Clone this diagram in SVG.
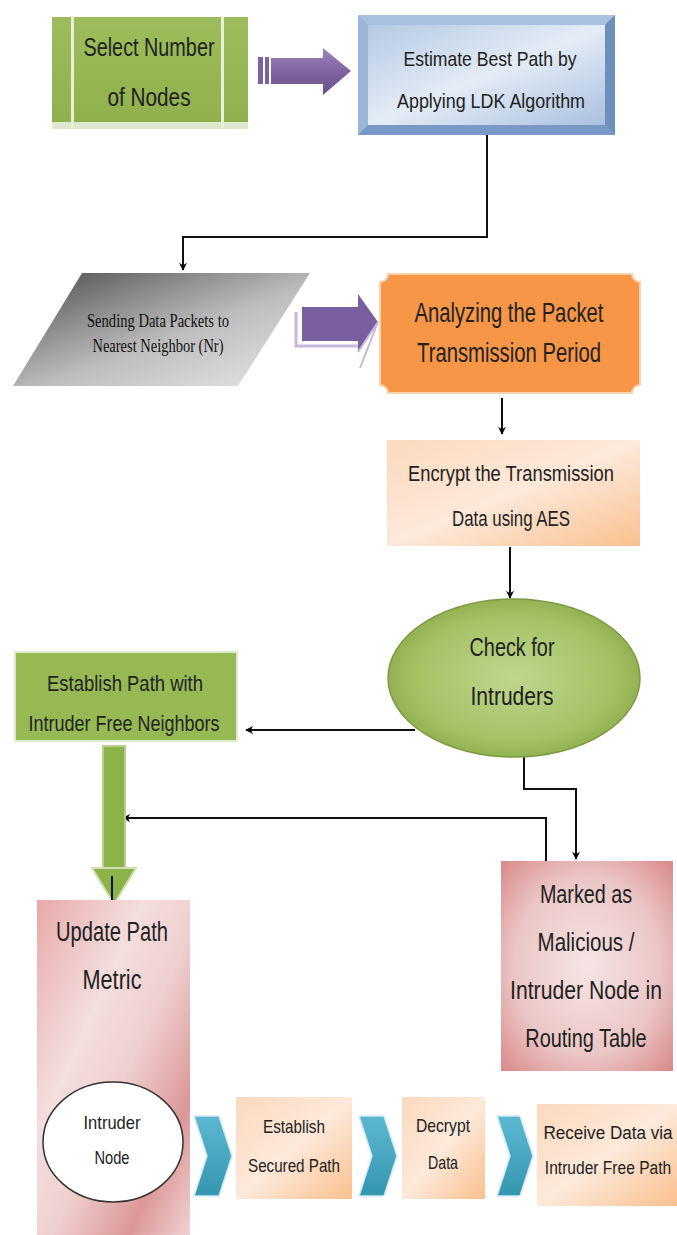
<svg xmlns="http://www.w3.org/2000/svg" width="677" height="1235" viewBox="0 0 677 1235">
<defs>
<linearGradient id="gGreen" x1="0" y1="0" x2="0" y2="1"><stop offset="0" stop-color="#9dbd5c"/><stop offset="1" stop-color="#8fb04c"/></linearGradient>
<linearGradient id="gBlue" x1="0" y1="0" x2="1" y2="1"><stop offset="0" stop-color="#b4c9e3"/><stop offset="0.5" stop-color="#e4ecf6"/><stop offset="1" stop-color="#a9c0de"/></linearGradient>
<linearGradient id="gGray" x1="0" y1="0" x2="1" y2="1"><stop offset="0" stop-color="#4a4a4a"/><stop offset="0.55" stop-color="#bdbdbd"/><stop offset="1" stop-color="#e8e8e8"/></linearGradient>
<linearGradient id="gPeach" x1="0" y1="0" x2="1" y2="1"><stop offset="0" stop-color="#fbd9bd"/><stop offset="0.5" stop-color="#fde9da"/><stop offset="1" stop-color="#f9c08e"/></linearGradient>
<radialGradient id="gOval" cx="0.5" cy="0.5" r="0.55"><stop offset="0" stop-color="#bfd68e"/><stop offset="0.7" stop-color="#a5c265"/><stop offset="1" stop-color="#8cab4a"/></radialGradient>
<radialGradient id="gPink" cx="0.5" cy="0.5" r="0.7"><stop offset="0" stop-color="#f6e4e4"/><stop offset="0.6" stop-color="#ebc6c6"/><stop offset="1" stop-color="#d9898a"/></radialGradient>
<linearGradient id="gPinkTall" x1="0" y1="0" x2="1" y2="1"><stop offset="0" stop-color="#e8a9aa"/><stop offset="0.35" stop-color="#f4dede"/><stop offset="0.55" stop-color="#efcfcf"/><stop offset="0.8" stop-color="#dc9798"/><stop offset="1" stop-color="#f0d2d2"/></linearGradient>
<linearGradient id="gPurple" x1="0" y1="0" x2="0" y2="1"><stop offset="0" stop-color="#9d86bc"/><stop offset="0.5" stop-color="#8064a2"/><stop offset="1" stop-color="#6a5089"/></linearGradient>
<linearGradient id="gChev" x1="0" y1="0" x2="0" y2="1"><stop offset="0" stop-color="#5bb8d0"/><stop offset="1" stop-color="#3596b0"/></linearGradient>
<marker id="ah" viewBox="0 0 10 10" refX="9" refY="5" markerWidth="8" markerHeight="8" markerUnits="userSpaceOnUse" orient="auto"><path d="M0,0 L10,5 L0,10 L3,5 Z" fill="#000"/></marker>
</defs>
<style>
.t{font-family:"Liberation Sans",Arial,sans-serif;fill:#222;text-anchor:middle}
.s{font-family:"Liberation Serif","Times New Roman",serif;fill:#111;text-anchor:middle}
.ln{fill:none;stroke:#111;stroke-width:2}
</style>
<rect width="677" height="1235" fill="#fff"/>

<g id="connectors">
<path class="ln" d="M487,135 V237 H183 V270" marker-end="url(#ah)"/>
<path class="ln" d="M502,398 V434" marker-end="url(#ah)"/>
<path class="ln" d="M510,547 V598" marker-end="url(#ah)"/>
<path class="ln" d="M415,730 H246" marker-end="url(#ah)"/>
<path class="ln" d="M524,757 V789 H576 V859" marker-end="url(#ah)"/>
<path class="ln" d="M546,861 V818 H123" marker-end="url(#ah)"/>
<g id="arrow1">
<rect x="258" y="57" width="5" height="27" fill="#7d62a0"/>
<rect x="265" y="57" width="4" height="27" fill="#7d62a0"/>
<path d="M271,58 H323 V48 L351,71 L323,95 V84 H271 Z" fill="url(#gPurple)"/>
</g>
<g id="arrow2">
<path d="M296,312 V346 H358" fill="none" stroke="#c6b8d8" stroke-width="3"/>
<path d="M302,307 H358 V294 L378,322 L358,352 V341 H302 Z" fill="#7a5fa0"/>
<path d="M358,352 L378,322 L360,368" fill="none" stroke="#c6b8d8" stroke-width="2"/>
</g>
<g id="greenArrow">
<rect x="103" y="746" width="22" height="124" fill="#8db24a" stroke="#b6d08a" stroke-width="2"/>
<path d="M92,868 H136 L114,904 Z" fill="#8db24a" stroke="#cfe0b0" stroke-width="2"/>
<path d="M112,876 V902" stroke="#111" stroke-width="2"/>
</g>
</g>

<g id="n-select">
<rect x="52" y="17" width="196" height="111" fill="url(#gGreen)"/>
<rect x="52" y="122" width="196" height="7" fill="#dfe8cc"/>
<rect x="71" y="17" width="3" height="111" fill="#e9f0da"/>
<rect x="221" y="17" width="3" height="111" fill="#e9f0da"/>
<text class="t" x="149" y="56" font-size="25" textLength="131" lengthAdjust="spacingAndGlyphs">Select Number</text>
<text class="t" x="149" y="106" font-size="25" textLength="83" lengthAdjust="spacingAndGlyphs">of Nodes</text>
</g>

<g id="n-estimate">
<rect x="358" y="15" width="257" height="120" fill="#8eabd2"/>
<path d="M358,15 H615 L605,25 H368 Z" fill="#a9c1e0"/>
<path d="M358,15 L368,25 V125 L358,135 Z" fill="#9cb6da"/>
<path d="M615,15 V135 L605,125 V25 Z" fill="#6d8fbd"/>
<path d="M358,135 H615 L605,125 H368 Z" fill="#7899c5"/>
<rect x="368" y="25" width="237" height="100" fill="url(#gBlue)"/>
<text class="t" x="490" y="66" font-size="21" textLength="173" lengthAdjust="spacingAndGlyphs">Estimate Best Path by</text>
<text class="t" x="491" y="108" font-size="21" textLength="188" lengthAdjust="spacingAndGlyphs">Applying LDK Algorithm</text>
</g>

<g id="n-sending">
<path d="M82,273 H310 L238,386 H13 Z" fill="url(#gGray)"/>
<text class="s" x="158" y="327" font-size="18" textLength="142" lengthAdjust="spacingAndGlyphs">Sending Data Packets to</text>
<text class="s" x="158" y="352" font-size="18" textLength="131" lengthAdjust="spacingAndGlyphs">Nearest Neighbor (Nr)</text>
</g>

<g id="n-analyze">
<path d="M388,274 H632 A8,8 0 0 0 640,282 V385 A8,8 0 0 0 632,393 H388 A8,8 0 0 0 380,385 V282 A8,8 0 0 0 388,274 Z" fill="#f79646" stroke="#fbd1ae" stroke-width="2"/>
<text class="t" x="509" y="322" font-size="27" textLength="189" lengthAdjust="spacingAndGlyphs">Analyzing the Packet</text>
<text class="t" x="509" y="362" font-size="27" textLength="184" lengthAdjust="spacingAndGlyphs">Transmission Period</text>
</g>

<g id="n-encrypt">
<rect x="387" y="440" width="253" height="106" fill="url(#gPeach)"/>
<text class="t" x="511" y="481" font-size="22" textLength="206" lengthAdjust="spacingAndGlyphs">Encrypt the Transmission</text>
<text class="t" x="511" y="526" font-size="22" textLength="118" lengthAdjust="spacingAndGlyphs">Data using AES</text>
</g>

<g id="n-check">
<ellipse cx="514" cy="678" rx="126" ry="79" fill="url(#gOval)" stroke="#7d9a40" stroke-width="1.5"/>
<text class="t" x="512" y="656" font-size="25" textLength="85" lengthAdjust="spacingAndGlyphs">Check for</text>
<text class="t" x="512" y="705" font-size="25" textLength="83" lengthAdjust="spacingAndGlyphs">Intruders</text>
</g>

<g id="n-establishPath">
<rect x="15" y="652" width="222" height="89" fill="#96b954" stroke="#dfe9cd" stroke-width="2"/>
<text class="t" x="125" y="691" font-size="22" textLength="156" lengthAdjust="spacingAndGlyphs">Establish Path with</text>
<text class="t" x="124" y="731" font-size="22" textLength="191" lengthAdjust="spacingAndGlyphs">Intruder Free Neighbors</text>
</g>

<g id="n-marked">
<rect x="501" y="861" width="172" height="210" fill="url(#gPink)"/>
<text class="t" font-size="26" transform="translate(586,903) scale(0.76,1)">Marked as</text>
<text class="t" font-size="26" transform="translate(586,951) scale(0.79,1)">Malicious /</text>
<text class="t" font-size="26" transform="translate(586,999) scale(0.815,1)">Intruder Node in</text>
<text class="t" font-size="26" transform="translate(586,1047) scale(0.766,1)">Routing Table</text>
</g>

<g id="n-update">
<rect x="37" y="900" width="153" height="335" fill="url(#gPinkTall)"/>
<text class="t" x="112" y="941" font-size="27" textLength="112" lengthAdjust="spacingAndGlyphs">Update Path</text>
<text class="t" x="112" y="989" font-size="27" textLength="59" lengthAdjust="spacingAndGlyphs">Metric</text>
</g>

<g id="n-intruderNode">
<ellipse cx="113" cy="1142" rx="70" ry="60" fill="#fff" stroke="#333" stroke-width="1.5"/>
<text class="t" x="112" y="1129" font-size="19" textLength="57" lengthAdjust="spacingAndGlyphs">Intruder</text>
<text class="t" x="112" y="1164" font-size="19" textLength="35" lengthAdjust="spacingAndGlyphs">Node</text>
</g>

<g id="chevrons">
<path d="M194,1116 H219 L232,1156 L219,1196 H194 L207,1156 Z" fill="url(#gChev)" stroke="#cfe9f1" stroke-width="1.5"/>
<path d="M359,1116 H384 L397,1156 L384,1196 H359 L372,1156 Z" fill="url(#gChev)" stroke="#cfe9f1" stroke-width="1.5"/>
<path d="M497,1116 H520 L533,1156 L520,1196 H497 L510,1156 Z" fill="url(#gChev)" stroke="#cfe9f1" stroke-width="1.5"/>
</g>

<g id="n-secured">
<rect x="236" y="1097" width="116" height="102" fill="url(#gPeach)"/>
<text class="t" x="294" y="1133" font-size="19" textLength="62" lengthAdjust="spacingAndGlyphs">Establish</text>
<text class="t" x="294" y="1172" font-size="19" textLength="92" lengthAdjust="spacingAndGlyphs">Secured Path</text>
</g>

<g id="n-decrypt">
<rect x="402" y="1097" width="83" height="102" fill="url(#gPeach)"/>
<text class="t" x="443" y="1132" font-size="19" textLength="54" lengthAdjust="spacingAndGlyphs">Decrypt</text>
<text class="t" x="443" y="1169" font-size="19" textLength="30" lengthAdjust="spacingAndGlyphs">Data</text>
</g>

<g id="n-receive">
<rect x="537" y="1104" width="140" height="102" fill="url(#gPeach)"/>
<text class="t" font-size="19" transform="translate(608,1139) scale(0.9,1)">Receive Data via</text>
<text class="t" font-size="19" transform="translate(608,1174) scale(0.82,1)">Intruder Free Path</text>
</g>
</svg>
